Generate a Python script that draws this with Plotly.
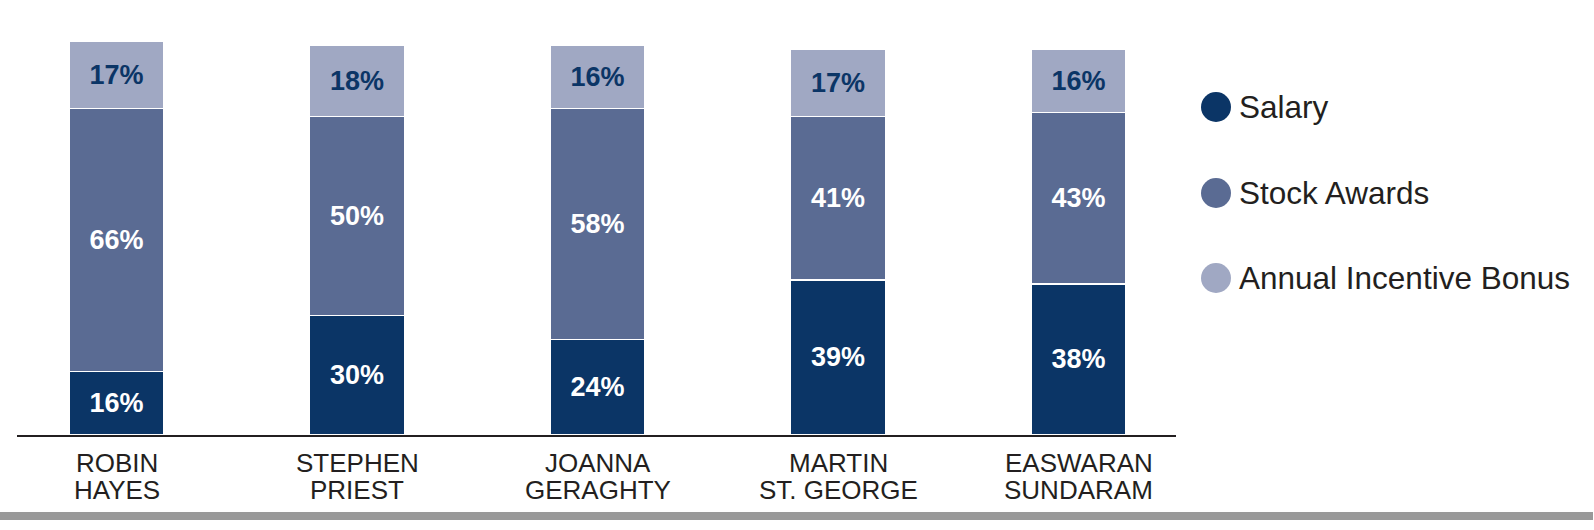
import plotly.graph_objects as go

# ---- data ----
name_line1 = ["ROBIN", "STEPHEN", "JOANNA", "MARTIN", "EASWARAN"]
name_line2 = ["HAYES", "PRIEST", "GERAGHTY", "ST. GEORGE", "SUNDARAM"]
categories = [a + " " + b for a, b in zip(name_line1, name_line2)]
salary = [16, 30, 24, 39, 38]
stock_awards = [66, 50, 58, 41, 43]
annual_bonus = [17, 18, 16, 17, 16]
series_names = ["Salary", "Stock Awards", "Annual Incentive Bonus"]

# ---- style ----
W, H = 1594, 530
C_SAL = "#0b3566"
C_STK = "#5a6b93"
C_BON = "#a0a8c3"
TXT = "#231f20"
FONT = "Liberation Sans, Arial, Helvetica, sans-serif"

plot_l, plot_r, base_y = 17, 1176, 435


def px(x):
    return x / W


def py(y):
    return 1 - y / H


fig = go.Figure()
for vals, col, tcol, nm in [
    (salary, C_SAL, "white", series_names[0]),
    (stock_awards, C_STK, "white", series_names[1]),
    (annual_bonus, C_BON, C_SAL, series_names[2]),
]:
    fig.add_trace(go.Bar(
        x=categories, y=vals, name=nm,
        marker=dict(color=col, line=dict(color="white", width=1.5)),
        texttemplate="%{y}%", textposition="inside", insidetextanchor="middle",
        textfont=dict(family=FONT, size=27, color=tcol, weight="bold"),
        showlegend=False, hoverinfo="skip",
    ))

shapes = []
annotations = []
# category labels (two lines)
for cat, l1, l2 in zip(categories, name_line1, name_line2):
    for txt, yy in [(l1, 462.5), (l2, 489.5)]:
        annotations.append(dict(
            x=cat, xref="x", y=py(yy), yref="paper", text=txt, showarrow=False,
            xanchor="center", yanchor="middle",
            font=dict(family=FONT, size=26, color=TXT),
        ))

# legend
leg_y = [107, 193, 278]
for nm, col, yy in zip(series_names, [C_SAL, C_STK, C_BON], leg_y):
    shapes.append(dict(
        type="circle", xref="paper", yref="paper",
        xsizemode="pixel", ysizemode="pixel",
        xanchor=px(1216), yanchor=py(yy),
        x0=-15, x1=15, y0=-15, y1=15,
        fillcolor=col, line=dict(width=0),
    ))
    annotations.append(dict(
        x=px(1237), xref="paper", y=py(yy), yref="paper", text=nm, showarrow=False,
        xanchor="left", yanchor="middle",
        font=dict(family=FONT, size=31.5, color=TXT),
    ))

# bottom grey band
shapes.append(dict(
    type="rect", xref="paper", yref="paper",
    x0=0, x1=px(1593), y0=py(520), y1=py(512),
    fillcolor="#999999", line=dict(width=0),
))

fig.update_layout(
    width=W, height=H,
    margin=dict(l=0, r=0, t=0, b=0),
    paper_bgcolor="white", plot_bgcolor="white",
    barmode="stack", bargap=0.605,
    xaxis=dict(domain=[px(plot_l), px(plot_r)], range=[-0.414, 4.405],
               showticklabels=False, ticks="", showgrid=False, zeroline=False,
               showline=True, linecolor=TXT, linewidth=2, fixedrange=True),
    yaxis=dict(domain=[py(base_y), 1], range=[0, base_y / 3.98],
               visible=False, showgrid=False, zeroline=False, fixedrange=True),
    shapes=shapes, annotations=annotations,
    uniformtext=dict(mode=False),
)

fig.write_html("out.html", config={"displayModeBar": False},
               post_script="document.body.style.margin='0';")
